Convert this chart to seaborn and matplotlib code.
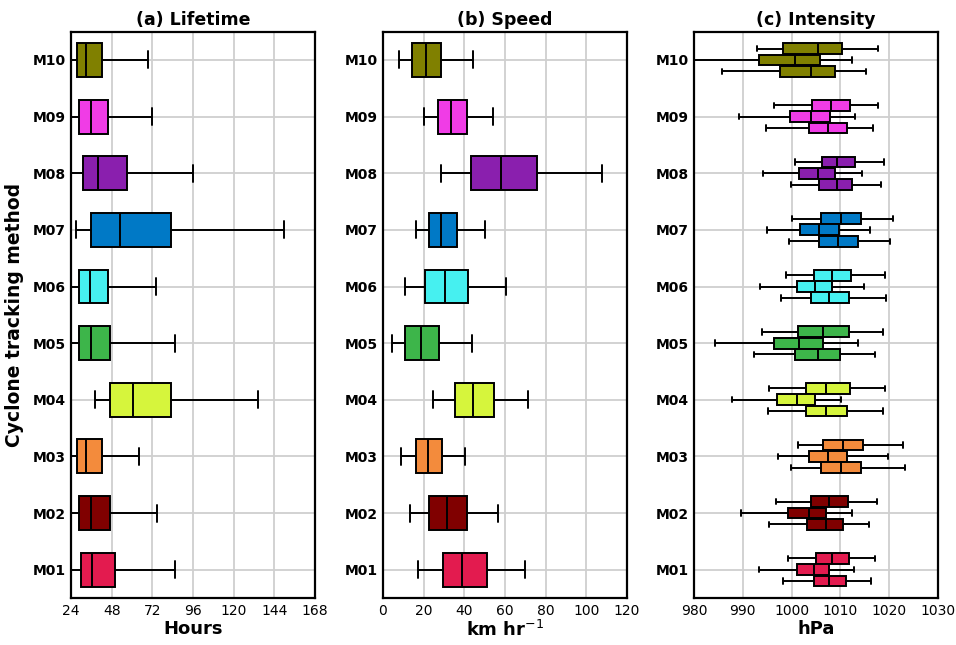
import numpy as np
import pandas as pd
import matplotlib
matplotlib.use("Agg")
import matplotlib.pyplot as plt
import seaborn as sns

# Tracking methods, listed top to bottom
methods = ["M10", "M09", "M08", "M07", "M06", "M05", "M04", "M03", "M02", "M01"]

colors = ["#808000", "#F03CE6", "#8A1FAE", "#0079C6", "#46F0F0",
          "#3DB54A", "#D6F53C", "#F38B3C", "#800000", "#E31B4F"]

# Five-number summaries (min, Q1, median, Q3, max) per method
lifetime = {
    "M10": [24.0, 27.7, 32.9, 42.1, 69.3],
    "M09": [24.0, 28.9, 35.8, 46.0, 71.9],
    "M08": [24.0, 30.9, 40.0, 56.9, 96.1],
    "M07": [27.0, 36.0, 53.0, 82.9, 149.9],
    "M06": [24.0, 28.9, 35.0, 46.0, 74.0],
    "M05": [24.0, 28.9, 35.8, 47.0, 85.1],
    "M04": [38.0, 47.1, 60.8, 82.9, 134.1],
    "M03": [24.0, 27.7, 32.9, 42.1, 64.0],
    "M02": [24.0, 28.9, 35.8, 47.0, 74.8],
    "M01": [24.0, 29.9, 36.6, 50.0, 85.1],
}

speed = {
    "M10": [7.7, 14.4, 21.4, 28.6, 44.3],
    "M09": [20.4, 27.3, 33.5, 41.3, 53.9],
    "M08": [28.4, 43.4, 58.1, 75.8, 107.5],
    "M07": [16.2, 22.7, 28.7, 36.4, 50.3],
    "M06": [10.8, 20.7, 30.5, 42.0, 60.3],
    "M05": [4.2, 10.8, 18.6, 27.4, 43.9],
    "M04": [24.5, 35.6, 44.1, 54.6, 71.5],
    "M03": [8.8, 16.0, 22.2, 29.2, 40.3],
    "M02": [13.1, 22.7, 31.5, 41.3, 56.5],
    "M01": [17.0, 29.4, 39.0, 51.0, 69.9],
}

# Central pressure, three samples per method (upper, middle, lower rows)
runs = ["R1", "R2", "R3"]
intensity = {
    "M10": [[992.9, 998.2, 1005.5, 1010.3, 1017.7],
            [978.0, 993.3, 1000.7, 1005.9, 1012.3],
            [985.7, 997.7, 1004.0, 1008.8, 1015.2]],
    "M09": [[996.3, 1004.2, 1008.1, 1011.9, 1017.7],
            [989.3, 999.6, 1004.0, 1007.9, 1012.9],
            [994.7, 1003.5, 1007.5, 1011.4, 1016.7]],
    "M08": [[1000.7, 1006.2, 1009.3, 1013.0, 1019.0],
            [994.2, 1001.6, 1005.4, 1008.8, 1014.5],
            [999.8, 1005.7, 1009.3, 1012.4, 1018.3]],
    "M07": [[1000.1, 1006.1, 1010.2, 1014.2, 1020.7],
            [994.9, 1001.8, 1005.6, 1009.7, 1016.1],
            [999.5, 1005.6, 1009.6, 1013.6, 1020.1]],
    "M06": [[998.9, 1004.5, 1008.3, 1012.2, 1019.1],
            [993.6, 1001.0, 1004.8, 1008.3, 1014.9],
            [997.9, 1004.0, 1007.7, 1011.8, 1019.3]],
    "M05": [[993.9, 1001.4, 1006.5, 1011.7, 1018.8],
            [984.2, 996.4, 1001.6, 1006.4, 1013.6],
            [992.2, 1000.6, 1005.4, 1009.9, 1017.0]],
    "M04": [[995.3, 1002.9, 1007.1, 1012.0, 1019.1],
            [987.8, 997.1, 1001.2, 1004.8, 1010.1],
            [995.1, 1002.9, 1007.0, 1011.3, 1018.7]],
    "M03": [[1001.4, 1006.5, 1010.5, 1014.7, 1022.8],
            [997.3, 1003.5, 1007.5, 1011.4, 1019.8],
            [999.9, 1006.0, 1010.1, 1014.2, 1023.3]],
    "M02": [[996.7, 1004.0, 1007.7, 1011.5, 1017.5],
            [989.7, 999.2, 1003.6, 1007.0, 1012.4],
            [995.3, 1003.2, 1007.0, 1010.5, 1015.9]],
    "M01": [[999.2, 1005.0, 1008.2, 1011.7, 1017.1],
            [993.3, 1001.0, 1004.5, 1007.6, 1012.8],
            [998.3, 1004.6, 1007.7, 1011.2, 1016.3]],
}

titles = ["(a) Lifetime", "(b) Speed", "(c) Intensity"]
xlabels = ["Hours", "km hr$^{-1}$", "hPa"]
xticks = [[24, 48, 72, 96, 120, 144, 168],
          [0, 20, 40, 60, 80, 100, 120],
          [980, 990, 1000, 1010, 1020, 1030]]


def to_long(summary):
    rows = [(m, v) for m in methods for v in summary[m]]
    return pd.DataFrame(rows, columns=["method", "value"])


def to_long_runs(summary):
    rows = [(m, r, v) for m in methods
            for r, vals in zip(runs, summary[m]) for v in vals]
    return pd.DataFrame(rows, columns=["method", "run", "value"])


sns.set_style("whitegrid")
plt.rcParams["font.family"] = ["DejaVu Sans"]
plt.rcParams.update({"text.color": "black", "axes.labelcolor": "black",
                     "xtick.color": "black", "ytick.color": "black"})

fig = plt.figure(figsize=(9.56, 6.45), dpi=100)
lefts = [0.0743, 0.4006, 0.726]
axes = [fig.add_axes([l, 0.0729, 0.2552, 0.878]) for l in lefts]

palette = dict(zip(methods, colors))
box_common = dict(orient="h", order=methods, whis=(0, 100), linecolor="black",
                  linewidth=1.4, saturation=1, fliersize=0)

sns.boxplot(data=to_long(lifetime), x="value", y="method", hue="method",
            palette=palette, legend=False, width=0.6, ax=axes[0], **box_common)
sns.boxplot(data=to_long(speed), x="value", y="method", hue="method",
            palette=palette, legend=False, width=0.6, ax=axes[1], **box_common)
sns.boxplot(data=to_long_runs(intensity), x="value", y="method", hue="run",
            hue_order=runs, dodge=True, gap=0.05, legend=False, width=0.6,
            ax=axes[2], **box_common)

# colour the intensity boxes by their tracking method
for patch in axes[2].patches:
    yc = patch.get_path().vertices[:, 1].mean()
    patch.set_facecolor(colors[int(round(yc))])

xlims = [(24, 168), (0, 120), (980, 1030)]
for i, ax in enumerate(axes):
    ax.set_xlim(*xlims[i])
    ax.set_ylim(9.5, -0.5)
    ax.set_xticks(xticks[i])
    ax.set_title(titles[i], fontsize=12.5, fontweight="bold", pad=5,
                 color="black")
    ax.set_xlabel(xlabels[i], fontsize=13, fontweight="bold", labelpad=2)
    if i == 0:
        ax.set_ylabel("Cyclone tracking method", fontsize=13.5,
                      fontweight="bold", labelpad=6)
    else:
        ax.set_ylabel("")
    ax.tick_params(axis="both", length=0, labelsize=10, pad=4,
                   labelcolor="black")
    for lab in ax.get_yticklabels():
        lab.set_fontweight("bold")
    ax.grid(True, color="#cfcfcf", linewidth=1.3)
    ax.set_axisbelow(True)
    for sp in ax.spines.values():
        sp.set_color("black")
        sp.set_linewidth(1.6)

fig.savefig("out.png", dpi=100)
